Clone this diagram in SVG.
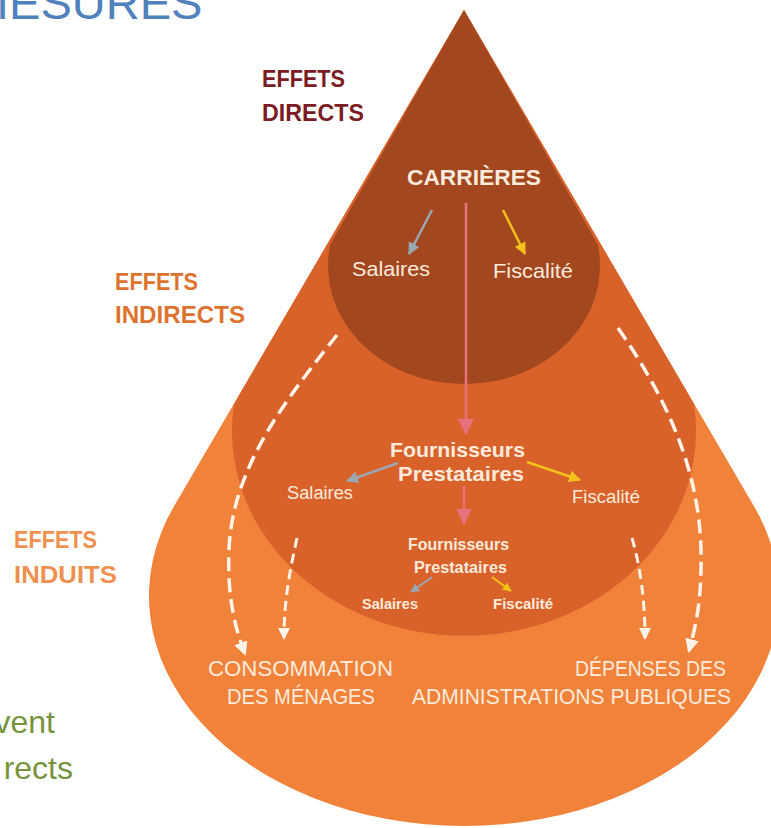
<svg xmlns="http://www.w3.org/2000/svg" width="771" height="828" viewBox="0 0 771 828">
<style>
.lbl{font-family:"Liberation Sans",Arial,sans-serif;font-weight:bold;font-size:23px}
.in{font-family:"Liberation Sans",Arial,sans-serif;fill:#FCEBDD}
.b{font-weight:bold}
.dash{fill:none;stroke:#FFF3EA;stroke-linecap:butt}
</style>
<defs>
<marker id="ah-white" viewBox="0 0 14 14" markerWidth="14" markerHeight="14" refX="12" refY="7" orient="auto" markerUnits="userSpaceOnUse"><path d="M0,0 L14,7 L0,14 Z" fill="#FFF3EA"/></marker>
<marker id="ah-white-s" viewBox="0 0 12 12" markerWidth="12" markerHeight="12" refX="10" refY="6" orient="auto" markerUnits="userSpaceOnUse"><path d="M0,0 L12,6 L0,12 Z" fill="#FFF3EA"/></marker>
<marker id="ah-grey" viewBox="0 0 12 12" markerWidth="12" markerHeight="12" refX="11" refY="6" orient="auto" markerUnits="userSpaceOnUse"><path d="M0,0 L12,6 L0,12 Z" fill="#9BA8B3"/></marker>
<marker id="ah-yellow" viewBox="0 0 12 12" markerWidth="12" markerHeight="12" refX="11" refY="6" orient="auto" markerUnits="userSpaceOnUse"><path d="M0,0 L12,6 L0,12 Z" fill="#F4C11C"/></marker>
<marker id="ah-pink" viewBox="0 0 16 16" markerWidth="16" markerHeight="16" refX="15" refY="8" orient="auto" markerUnits="userSpaceOnUse"><path d="M0,0 L16,8 L0,16 Z" fill="#E8717E"/></marker>
<marker id="ah-grey-s" viewBox="0 0 10 10" markerWidth="9" markerHeight="9" refX="9" refY="5" orient="auto" markerUnits="userSpaceOnUse"><path d="M0,0 L10,5 L0,10 Z" fill="#9BA8B3"/></marker>
<marker id="ah-yellow-s" viewBox="0 0 10 10" markerWidth="9" markerHeight="9" refX="9" refY="5" orient="auto" markerUnits="userSpaceOnUse"><path d="M0,0 L10,5 L0,10 Z" fill="#F4C11C"/></marker>
</defs>
<rect width="771" height="828" fill="#FFFFFF"/>

<g id="title">
<text x="-4" y="19" font-family="Liberation Sans,Arial,sans-serif" font-size="47" fill="#4F81BD">IESURES</text>
</g>
<g id="side-text" font-family="Liberation Sans,Arial,sans-serif" font-size="32" fill="#77933C" text-anchor="end">
<text x="55" y="733">vent</text>
<text x="73" y="779">rects</text>
</g>

<g id="zone-induits"><path d="M464,10 L174.3,505.7 A315 230 0 1 0 753.7,505.7 Z" fill="#F1823A"/></g>
<g id="zone-indirects"><path d="M464,10 L234,404 A232 205 0 1 0 694,404 Z" fill="#D9612A"/></g>
<g id="zone-directs"><path d="M464,10 L330.3,244.5 A136 118 0 1 0 597.7,244.5 Z" fill="#A3471F"/></g>

<g id="label-directs" class="lbl" fill="#7B1C24">
<text x="262" y="87" textLength="83" lengthAdjust="spacingAndGlyphs">EFFETS</text>
<text x="262" y="121" textLength="102" lengthAdjust="spacingAndGlyphs">DIRECTS</text>
</g>
<g id="label-indirects" class="lbl" fill="#DE7330">
<text x="115" y="290" textLength="83" lengthAdjust="spacingAndGlyphs">EFFETS</text>
<text x="115" y="323" textLength="130" lengthAdjust="spacingAndGlyphs">INDIRECTS</text>
</g>
<g id="label-induits" class="lbl" fill="#F0904E">
<text x="14" y="548" textLength="83" lengthAdjust="spacingAndGlyphs">EFFETS</text>
<text x="14" y="583" textLength="103" lengthAdjust="spacingAndGlyphs">INDUITS</text>
</g>

<g id="connectors">
<line x1="466" y1="203" x2="466" y2="434" stroke="#E8717E" stroke-width="2.5" marker-end="url(#ah-pink)"/>
<line x1="432" y1="210" x2="409" y2="254" stroke="#9BA8B3" stroke-width="2.5" marker-end="url(#ah-grey)"/>
<line x1="503" y1="210" x2="525" y2="254" stroke="#F4C11C" stroke-width="2.5" marker-end="url(#ah-yellow)"/>
<line x1="398" y1="463" x2="347" y2="481" stroke="#9BA8B3" stroke-width="2.5" marker-end="url(#ah-grey)"/>
<line x1="527" y1="462" x2="580" y2="480" stroke="#F4C11C" stroke-width="2.5" marker-end="url(#ah-yellow)"/>
<line x1="464" y1="486" x2="464" y2="524" stroke="#E8717E" stroke-width="2.5" marker-end="url(#ah-pink)"/>
<line x1="432" y1="577" x2="411" y2="592" stroke="#9BA8B3" stroke-width="2" marker-end="url(#ah-grey-s)"/>
<line x1="492" y1="577" x2="511" y2="591" stroke="#F4C11C" stroke-width="2" marker-end="url(#ah-yellow-s)"/>
<path class="dash" d="M337,335 C290,395 232,465 229,550 C227,600 236,630 245,654" stroke-width="3.5" stroke-dasharray="14 7" marker-end="url(#ah-white)"/>
<path class="dash" d="M618,328 C668,400 699,470 701,550 C702,600 696,625 689,651" stroke-width="3.5" stroke-dasharray="14 7" marker-end="url(#ah-white)"/>
<path class="dash" d="M297,538 C290,570 284,600 284,638" stroke-width="3" stroke-dasharray="10 6" marker-end="url(#ah-white-s)"/>
<path class="dash" d="M632,538 C640,565 645,600 645,638" stroke-width="3" stroke-dasharray="10 6" marker-end="url(#ah-white-s)"/>
</g>

<g id="node-carrieres"><text class="in b" x="407" y="185" font-size="22" textLength="134" lengthAdjust="spacingAndGlyphs">CARRIÈRES</text></g>
<g id="node-salaires-1"><text class="in" x="352" y="276" font-size="21" textLength="78" lengthAdjust="spacingAndGlyphs">Salaires</text></g>
<g id="node-fiscalite-1"><text class="in" x="493" y="278" font-size="21" textLength="80" lengthAdjust="spacingAndGlyphs">Fiscalité</text></g>
<g id="node-fournisseurs-1">
<text class="in b" x="390" y="457" font-size="21" textLength="135" lengthAdjust="spacingAndGlyphs">Fournisseurs</text>
<text class="in b" x="398" y="481" font-size="21" textLength="126" lengthAdjust="spacingAndGlyphs">Prestataires</text>
</g>
<g id="node-salaires-2"><text class="in" x="287" y="499" font-size="18" textLength="66" lengthAdjust="spacingAndGlyphs">Salaires</text></g>
<g id="node-fiscalite-2"><text class="in" x="572" y="503" font-size="18" textLength="68" lengthAdjust="spacingAndGlyphs">Fiscalité</text></g>
<g id="node-fournisseurs-2">
<text class="in b" x="408" y="550" font-size="16" textLength="101" lengthAdjust="spacingAndGlyphs">Fournisseurs</text>
<text class="in b" x="414" y="573" font-size="16" textLength="93" lengthAdjust="spacingAndGlyphs">Prestataires</text>
</g>
<g id="node-salaires-3"><text class="in b" x="362" y="609" font-size="15" textLength="56" lengthAdjust="spacingAndGlyphs">Salaires</text></g>
<g id="node-fiscalite-3"><text class="in b" x="493" y="609" font-size="15" textLength="60" lengthAdjust="spacingAndGlyphs">Fiscalité</text></g>
<g id="node-consommation">
<text class="in" x="208" y="676" font-size="22" textLength="185" lengthAdjust="spacingAndGlyphs">CONSOMMATION</text>
<text class="in" x="227" y="704" font-size="22" textLength="148" lengthAdjust="spacingAndGlyphs">DES MÉNAGES</text>
</g>
<g id="node-depenses">
<text class="in" x="575" y="676" font-size="22" textLength="151" lengthAdjust="spacingAndGlyphs">DÉPENSES DES</text>
<text class="in" x="412" y="704" font-size="22" textLength="319" lengthAdjust="spacingAndGlyphs">ADMINISTRATIONS PUBLIQUES</text>
</g>
</svg>
